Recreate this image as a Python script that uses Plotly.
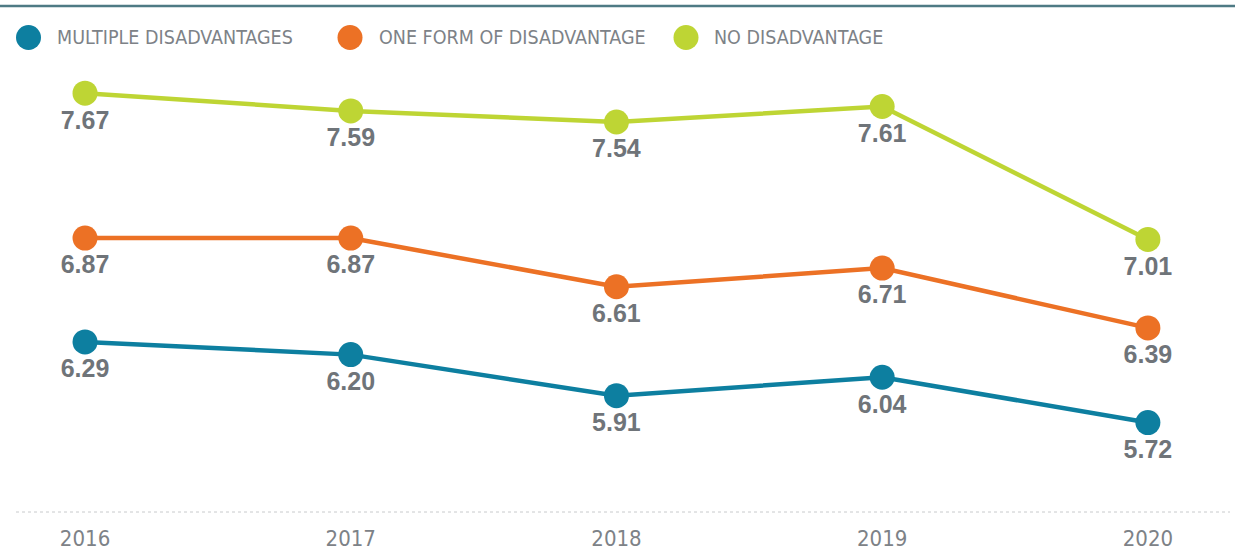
import plotly.graph_objects as go

years = [2016, 2017, 2018, 2019, 2020]
multiple = [6.29, 6.20, 5.91, 6.04, 5.72]
one_form = [6.87, 6.87, 6.61, 6.71, 6.39]
none = [7.67, 7.59, 7.54, 7.61, 7.01]

names = ["MULTIPLE DISADVANTAGES", "ONE FORM OF DISADVANTAGE", "NO DISADVANTAGE"]
colors = ["#0d7fa0", "#ec7125", "#bed534"]
series = [multiple, one_form, none]
# each series sits on its own hidden value scale, stacked in bands
ranges = [[5.0878, 8.7062], [5.4062, 8.1427], [5.7793, 8.0908]]
axis_keys = ["y", "y2", "y3"]

label_grey = "#6f7479"
tick_grey = "#7d8287"
narrow = "DejaVu Sans Condensed, Liberation Sans Narrow, sans-serif"

W, PLOT_H = 1247, 512

fig = go.Figure()
for vals, name, col, key in zip(series, names, colors, axis_keys):
    fig.add_trace(go.Scatter(
        x=years, y=vals, name=name, yaxis=key,
        mode="lines+markers+text",
        line=dict(color=col, width=4.5),
        marker=dict(color=col, size=25),
        text=[f"{v:.2f}" for v in vals],
        textposition="bottom center",
        textfont=dict(family="Liberation Sans, Arial, sans-serif", size=25,
                      color=label_grey, weight="bold"),
        showlegend=False,
        hoverinfo="x+y+name",
    ))

layout_axes = {}
for i, (key, rng) in enumerate(zip(axis_keys, ranges)):
    ax = dict(range=rng, visible=False, fixedrange=True, automargin=False)
    if i > 0:
        ax["overlaying"] = "y"
    layout_axes["yaxis" if i == 0 else f"yaxis{i + 1}"] = ax


def py(px_from_top):
    """Paper y for a pixel offset from the top of the plot area."""
    return 1 - px_from_top / PLOT_H


# legend built from circles and text along the top
legend_items = [(28.5, 55), (350, 377), (686, 712)]
shapes = [
    dict(type="line", xref="paper", yref="paper", x0=0, x1=1235 / W,
         y0=py(6), y1=py(6), line=dict(color="#4e7a84", width=2.5)),
    dict(type="line", xref="paper", yref="paper", x0=16 / W, x1=1230 / W,
         y0=0, y1=0, line=dict(color="#c8cacc", width=1, dash="dot")),
]
annotations = []
for (cx, tx), name, col in zip(legend_items, names, colors):
    shapes.append(dict(type="circle", xref="paper", yref="paper",
                       x0=(cx - 12.5) / W, x1=(cx + 12.5) / W,
                       y0=py(50), y1=py(25),
                       fillcolor=col, line=dict(width=0)))
    annotations.append(dict(xref="paper", yref="paper", x=tx / W, y=py(37.5),
                            xanchor="left", yanchor="middle", showarrow=False,
                            text=name, font=dict(family=narrow, size=19.5, color=tick_grey)))

fig.update_layout(
    width=W, height=550,
    margin=dict(l=0, r=0, t=0, b=550 - PLOT_H),
    paper_bgcolor="white", plot_bgcolor="white",
    xaxis=dict(range=[2015.680, 2020.373], tickvals=years,
               ticktext=[str(y) for y in years],
               showgrid=False, zeroline=False, showline=False,
               ticks="outside", ticklen=7, tickcolor="rgba(0,0,0,0)",
               tickfont=dict(family=narrow, size=22, color=tick_grey),
               automargin=False, fixedrange=True),
    shapes=shapes,
    annotations=annotations,
    **layout_axes,
)

fig.write_html("out.html")
